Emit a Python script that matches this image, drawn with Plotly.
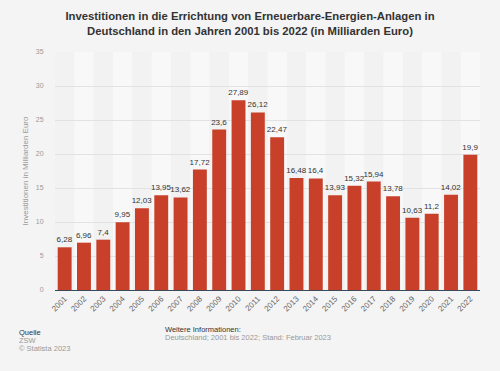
import plotly.graph_objects as go

years = [str(y) for y in range(2001, 2023)]
values = [6.28, 6.96, 7.4, 9.95, 12.03, 13.95, 13.62, 17.72, 23.6, 27.89, 26.12,
          22.47, 16.48, 16.4, 13.93, 15.32, 15.94, 13.78, 10.63, 11.2, 14.02, 19.9]
labels = [f"{v:g}".replace(".", ",") for v in values]
yticks = [0, 5, 10, 15, 20, 25, 30, 35]

FONT = "Arial, Liberation Sans, sans-serif"
BG = "#f4f4f4"
fig = go.Figure()
fig.add_trace(go.Bar(
    x=years, y=values, text=labels, textposition="outside", textangle=0,
    constraintext="none",
    textfont=dict(family=FONT, size=8, color="#333333"),
    marker=dict(color="#c8402a", line=dict(width=0)),
    cliponaxis=False,
))

n = len(years)
shapes = []
for i in range(n):
    if i % 2 == 1:
        shapes.append(dict(type="rect", xref="x", yref="paper", x0=i - 0.5, x1=i + 0.5,
                           y0=0, y1=1, fillcolor="#f8f8f8", line=dict(width=0), layer="below"))

fig.update_layout(
    width=500, height=371,
    paper_bgcolor=BG, plot_bgcolor="#f2f2f2",
    margin=dict(l=55, r=20, t=52, b=81, autoexpand=False),
    bargap=0.28,
    showlegend=False,
    shapes=shapes,
    font=dict(family=FONT),
    title=dict(
        text="<b>Investitionen in die Errichtung von Erneuerbare-Energien-Anlagen in<br>Deutschland in den Jahren 2001 bis 2022 (in Milliarden Euro)</b>",
        x=0.5, xanchor="center", y=0.945, yanchor="top",
        font=dict(size=11.3, color="#333333"),
    ),
    xaxis=dict(
        type="category", showticklabels=True, tickangle=-45, automargin=False,
        tickfont=dict(family=FONT, size=8, color="#666666"),
        range=[-0.5, n - 0.5], autorange=False,
        showgrid=False, showline=True, linecolor="#3a4a5a", linewidth=1,
    ),
    yaxis=dict(
        range=[0, 35], tickvals=yticks, ticktext=[str(t) for t in yticks],
        tickfont=dict(size=7, color="#999999"), automargin=False,
        ticks="outside", ticklen=9, tickcolor="rgba(0,0,0,0)",
        showgrid=True, gridcolor="#e2e2e2", gridwidth=1, zeroline=False,
        title=dict(text="Investitionen in Milliarden Euro", font=dict(size=8, color="#999999"), standoff=6),
    ),
)

ann_font = dict(family=FONT, size=7.5)
for txt, xx, yy, col in [("Quelle", 17, 332, "#333333"), ("ZSW", 17, 340, "#999999"),
                         ("© Statista 2023", 17, 348, "#999999"),
                         ("Weitere Informationen:", 163, 329, "#333333"),
                         ("Deutschland; 2001 bis 2022; Stand: Februar 2023", 163, 337, "#999999")]:
    fig.add_annotation(text=txt, x=(xx - 55) / 425, y=(290 - yy) / 238, xref="paper", yref="paper",
                       showarrow=False, font=dict(ann_font, color=col), xanchor="left", yanchor="middle")

fig.write_html("out.html", config={"displayModeBar": False})

# remove the default browser body margin so the figure sits at the window's origin
with open("out.html", "r", encoding="utf-8") as f:
    html = f.read()
html = html.replace("<head>", "<head><style>html,body{margin:0;padding:0;overflow:hidden;}</style>", 1)
with open("out.html", "w", encoding="utf-8") as f:
    f.write(html)
